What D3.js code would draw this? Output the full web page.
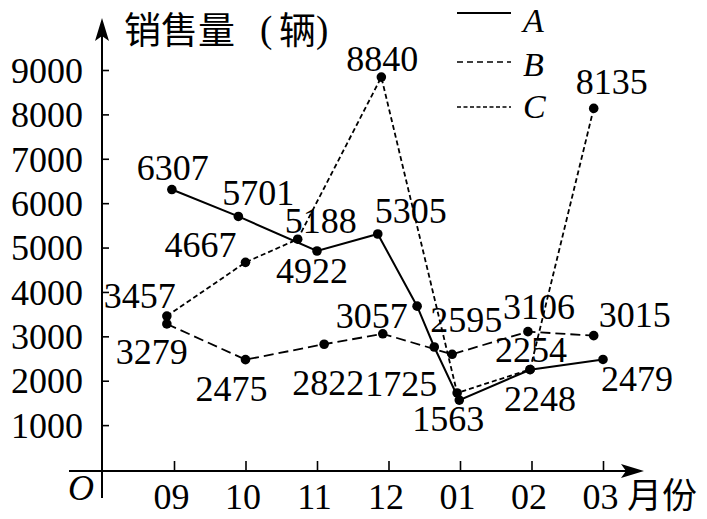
<!DOCTYPE html>
<html>
<head>
<meta charset="utf-8">
<script src="https://cdn.jsdelivr.net/npm/d3@7"></script>
<style>
  html, body { margin: 0; padding: 0; background: #fff; }
  svg { display: block; }
</style>
</head>
<body>
<svg id="chart" width="707" height="519"></svg>
<script>
// ---------- data ----------
const months = ["09", "10", "11", "12", "01", "02", "03"];
const yTicks = [1000, 2000, 3000, 4000, 5000, 6000, 7000, 8000, 9000];

// series A (solid): month position (index, as drawn) and sales
const posA = [-0.03, 0.9, 2.0, 2.85, 3.4, 3.64, 3.99, 4.98, 6.0];
const valA = [6307, 5701, 4922, 5305, 3680, 2760, 1563, 2248, 2479];
const labA = ["6307", "5701", "4922", "5305", "", "", "1563", "2248", "2479"];

// series B (dashed)
const posB = [-0.1, 1.0, 2.1, 2.92, 3.89, 4.95, 5.87];
const valB = [3279, 2475, 2822, 3057, 2595, 3106, 3015];
const labB = ["3279", "2475", "2822", "3057", "2595", "3106", "3015"];

// series C (dotted)
const posC = [-0.1, 1.0, 1.73, 2.9, 3.96, 4.98, 5.87];
const valC = [3457, 4667, 5188, 8840, 1725, 2254, 8135];
const labC = ["3457", "4667", "5188", "8840", "1725", "2254", "8135"];

const seriesNames = ["A", "B", "C"];
const yTitle = "销售量（辆）";
const xTitle = "月份";

// ---------- layout (label offsets from their point, px: [dx, dy-baseline]) ----------
const offA = [[1,-10],[20,-11],[-5,32],[33,-11],[0,0],[0,0],[-11,31],[10,41],[34,32]];
const offB = [[-15,40],[-14,41],[4,51],[-11,-6],[14,-22],[11,-13],[41,-9]];
const offC = [[-27,-8],[-45,-5],[23,-6],[1,-6],[-56,3],[1,-7],[18,-14]];

const styles = {
  A: { dash: null, legendDash: null },
  B: { dash: "10,5", legendDash: "6,4" },
  C: { dash: "5,3", legendDash: "4,2.5" }
};

const svg = d3.select("#chart");
const serif = "'Liberation Serif','Times New Roman',serif";
const cjk = "'Noto Sans CJK SC','Noto Sans CJK JP',sans-serif";

const x = d3.scaleLinear().domain([0, 6]).range([174, 603]);
const y = d3.scaleLinear().domain([0, 9000]).range([469.5, 70]);

const originX = 102, originY = 471;

// y axis (ticks point inward, labels to the left)
const yAxis = d3.axisLeft(y).tickValues(yTicks).tickFormat(d3.format("d"))
  .tickSizeInner(-7).tickSizeOuter(0).tickPadding(19);
const gy = svg.append("g").attr("transform", `translate(${originX},0)`).call(yAxis);
gy.select(".domain").remove();
gy.selectAll(".tick line").attr("stroke", "#000").attr("stroke-width", 1.6);
gy.selectAll(".tick text").attr("font-family", serif).attr("font-size", 36)
  .attr("fill", "#000").attr("dy", "0.34em");

// x axis
const xAxis = d3.axisBottom(x).tickValues(d3.range(months.length))
  .tickFormat(i => months[i]).tickSizeInner(-10).tickSizeOuter(0).tickPadding(12);
const gx = svg.append("g").attr("transform", `translate(0,${originY})`).call(xAxis);
gx.select(".domain").remove();
gx.selectAll(".tick line").attr("stroke", "#000").attr("stroke-width", 1.6);
gx.selectAll(".tick text").attr("font-family", serif).attr("font-size", 36)
  .attr("fill", "#000").attr("dx", -3);

// axis lines with arrows
svg.append("line").attr("x1", originX).attr("y1", 498).attr("x2", originX).attr("y2", 30)
  .attr("stroke", "#000").attr("stroke-width", 2);
svg.append("path").attr("d", `M${originX},18 L${originX+7},41 L${originX},36 L${originX-7},41 Z`)
  .attr("fill", "#000");
svg.append("line").attr("x1", 69).attr("y1", originY).attr("x2", 632).attr("y2", originY)
  .attr("stroke", "#000").attr("stroke-width", 2);
svg.append("path").attr("d", `M644,${originY} L621,${originY-7} L626,${originY} L621,${originY+7} Z`)
  .attr("fill", "#000");

// y-axis title: CJK glyphs in CJK font, brackets drawn as serif parentheses
const titleParts = [
  { t: yTitle.slice(0, 3), x: 124, font: cjk, size: 37, y: 44 },
  { t: "(", x: 260, font: serif, size: 37, y: 42 },
  { t: yTitle.slice(4, 5), x: 279, font: cjk, size: 37, y: 44 },
  { t: ")", x: 316, font: serif, size: 37, y: 42 }
];
svg.append("g").selectAll("text").data(titleParts).join("text")
  .attr("x", d => d.x).attr("y", d => d.y).attr("font-family", d => d.font)
  .attr("font-size", d => d.size).attr("fill", "#000").text(d => d.t);

svg.append("text").attr("x", 627).attr("y", 508).attr("font-family", cjk)
  .attr("font-size", 35).attr("fill", "#000").text(xTitle);
svg.append("text").attr("x", 68).attr("y", 500).attr("font-family", serif)
  .attr("font-style", "italic").attr("font-size", 36).attr("fill", "#000").text("O");

// series
const seriesData = {
  A: posA.map((p, i) => ({ p, v: valA[i], lab: labA[i], off: offA[i] })),
  B: posB.map((p, i) => ({ p, v: valB[i], lab: labB[i], off: offB[i] })),
  C: posC.map((p, i) => ({ p, v: valC[i], lab: labC[i], off: offC[i] }))
};

const line = d3.line().x(d => x(d.p)).y(d => y(d.v));

["B", "C", "A"].forEach(name => {
  const data = seriesData[name];
  const g = svg.append("g");
  g.append("path").datum(data).attr("d", line).attr("fill", "none")
    .attr("stroke", "#000").attr("stroke-width", name === "A" ? 2 : 1.8)
    .attr("stroke-dasharray", styles[name].dash);
  g.selectAll("circle").data(data).join("circle")
    .attr("cx", d => x(d.p)).attr("cy", d => y(d.v)).attr("r", 4.8).attr("fill", "#000");
});

// value labels
seriesNames.forEach(name => {
  svg.append("g").selectAll("text").data(seriesData[name].filter(d => d.lab))
    .join("text")
    .attr("x", d => x(d.p) + d.off[0])
    .attr("y", d => y(d.v) + d.off[1])
    .attr("text-anchor", "middle")
    .attr("font-family", serif).attr("font-size", 36).attr("fill", "#000")
    .text(d => d.lab);
});

// legend
const legendY = { A: 13, B: 62, C: 107 };
const legendText = { A: 32, B: 76, C: 118 };
seriesNames.forEach(name => {
  svg.append("line").attr("x1", 457).attr("x2", 511)
    .attr("y1", legendY[name]).attr("y2", legendY[name])
    .attr("stroke", "#000").attr("stroke-width", name === "A" ? 2 : 1.5)
    .attr("stroke-dasharray", styles[name].legendDash);
  svg.append("text").attr("x", 523).attr("y", legendText[name])
    .attr("font-family", serif).attr("font-style", "italic").attr("font-size", 34)
    .attr("fill", "#000").text(name);
});
</script>
</body>
</html>
